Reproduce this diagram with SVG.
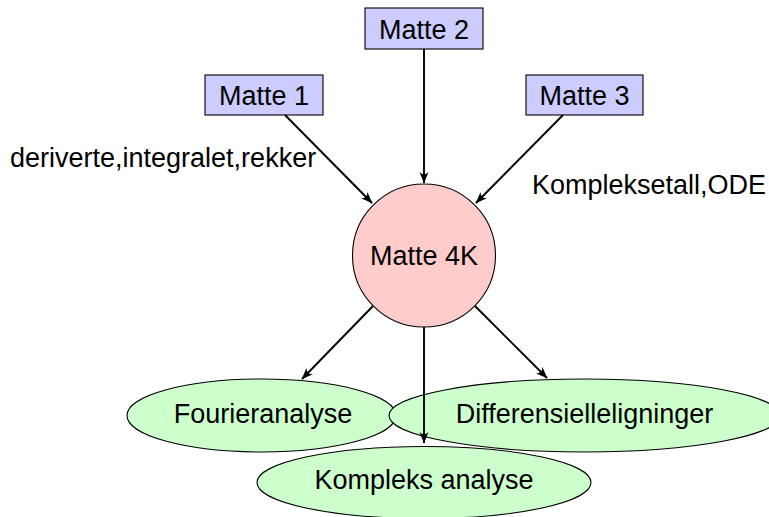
<svg xmlns="http://www.w3.org/2000/svg" width="769" height="517" viewBox="0 0 769 517">
<defs>
<marker id="arr" viewBox="-12 -6 13 12" refX="0" refY="0" markerWidth="13" markerHeight="12" markerUnits="userSpaceOnUse" orient="auto">
<path d="M0.5,0 L-11,-4.5 Q-6.5,0 -11,4.5 Z" fill="#000"/>
</marker>
<style>
text{font-family:"Liberation Sans",Arial,sans-serif;font-size:27px;fill:#000;}
.c{text-anchor:middle;}
.box{fill:#ccccff;stroke:#000;stroke-width:1.1;}
.circ{fill:#ffcccc;stroke:#000;stroke-width:1.1;}
.ell{fill:#ccffcc;stroke:#000;stroke-width:1.1;}
.edge{stroke:#000;stroke-width:1.9;fill:none;marker-end:url(#arr);}
</style>
</defs>
<rect width="769" height="517" fill="#fff"/>
<g id="m4k">
<circle class="circ" cx="424" cy="255.5" r="71.5"/>
<text class="c" x="424" y="265">Matte 4K</text>
</g>
<g id="fourier">
<ellipse class="ell" cx="261.5" cy="415.5" rx="134.5" ry="36.5"/>
<text class="c" x="263" y="423">Fourieranalyse</text>
</g>
<g id="diff">
<ellipse class="ell" cx="584.5" cy="415.5" rx="195.5" ry="36.5"/>
<text class="c" x="584.5" y="423">Differensielleligninger</text>
</g>
<g id="kompleks">
<ellipse class="ell" cx="424" cy="482.5" rx="167" ry="36"/>
<text class="c" x="424" y="489">Kompleks analyse</text>
</g>
<g id="m1">
<rect class="box" x="205" y="75" width="118" height="40"/>
<text class="c" x="264" y="105">Matte 1</text>
</g>
<g id="m2">
<rect class="box" x="365" y="8" width="118" height="41"/>
<text class="c" x="424" y="38.5">Matte 2</text>
</g>
<g id="m3">
<rect class="box" x="526" y="75" width="117" height="40"/>
<text class="c" x="584.5" y="105">Matte 3</text>
</g>
<g id="connectors">
<line class="edge" x1="285" y1="115" x2="372" y2="203"/>
<line class="edge" x1="424" y1="49" x2="424" y2="183"/>
<line class="edge" x1="563" y1="115" x2="476" y2="203"/>
<line class="edge" x1="373" y1="306" x2="302" y2="379"/>
<line class="edge" x1="424" y1="327" x2="424" y2="443"/>
<line class="edge" x1="475" y1="306" x2="547" y2="378"/>
<text x="10" y="167">deriverte,integralet,rekker</text>
<text x="532" y="194">Kompleksetall,ODE</text>
</g>
</svg>
